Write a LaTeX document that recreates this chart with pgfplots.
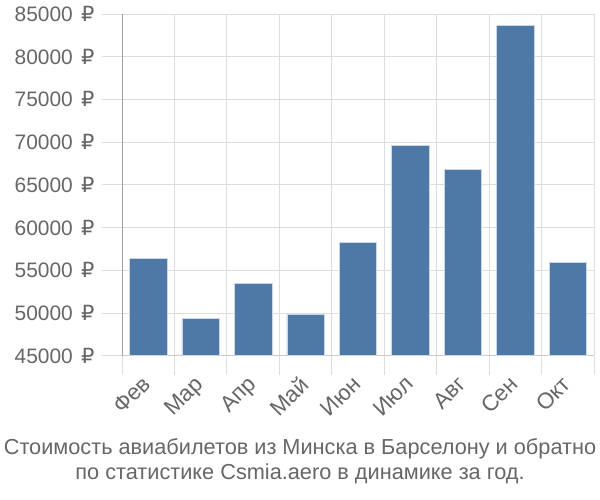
\documentclass[border=0pt]{standalone}
\usepackage{pgfplots}
\pgfplotsset{compat=1.18}
\usepackage{fontspec}
\setmainfont{Liberation Sans}
\newfontfamily\rub{DejaVu Sans}
\newcommand{\R}{\hspace{0.12em}{\rub ₽}}
\definecolor{barblue}{HTML}{4E79A7}
\definecolor{gridc}{HTML}{DDDDDD}
\definecolor{axc}{HTML}{A0A0A0}
\definecolor{txt}{HTML}{666666}
\begin{document}
\begin{tikzpicture}
\useasboundingbox (-122bp,-144.3bp) rectangle (478bp,355.7bp);
\begin{axis}[
  at={(0,0)}, anchor=south west,
  scale only axis, width=472bp, height=341.7bp,
  xmin=-0.5, xmax=8.5, ymin=45000, ymax=85000,
  scaled y ticks=false,
  axis x line*=bottom, axis y line*=left,
  axis line style={draw=axc, line width=0.8pt},
  x axis line style={draw=gridc!70!axc},
  xtick={0,...,8},
  xticklabels={Фев,Мар,Апр,Май,Июн,Июл,Авг,Сен,Окт},
  minor xtick={-0.5,0.5,...,8.5},
  xminorgrids, ymajorgrids,
  grid style={draw=gridc, line width=0.8pt},
  minor grid style={draw=gridc, line width=0.8pt},
  major x tick style={draw=none},
  minor x tick style={draw=gridc, line width=0.8pt},
  ytick style={draw=gridc, line width=0.8pt},
  tick align=outside,
  major tick length=20bp, minor tick length=19bp,
  ytick={45000,50000,...,85000},
  yticklabels={45000 \R,50000 \R,55000 \R,60000 \R,65000 \R,70000 \R,75000 \R,80000 \R,85000 \R},
  yticklabel style={font=\fontsize{21}{24}\selectfont, text=txt, xshift=-4bp},
  xticklabel style={font=\fontsize{22.5}{24}\selectfont, text=txt, xshift=-7bp, yshift=6bp, rotate=45, anchor=north east},
  clip=false,
]
\addplot[ybar, bar width=37.5bp, fill=barblue, draw=white!70!barblue, line width=0.5pt, bar shift=0pt]
  coordinates {(0,56400) (1,49330) (2,53430) (3,49850) (4,58280) (5,69640) (6,66830) (7,83690) (8,55940)};
\end{axis}
\node[text=txt, font=\fontsize{21.8}{26}\selectfont, align=center] at (178bp,-105.5bp)
  {Стоимость авиабилетов из Минска в Барселону и обратно\\по статистике Csmia.aero в динамике за год.};
\end{tikzpicture}
\end{document}
